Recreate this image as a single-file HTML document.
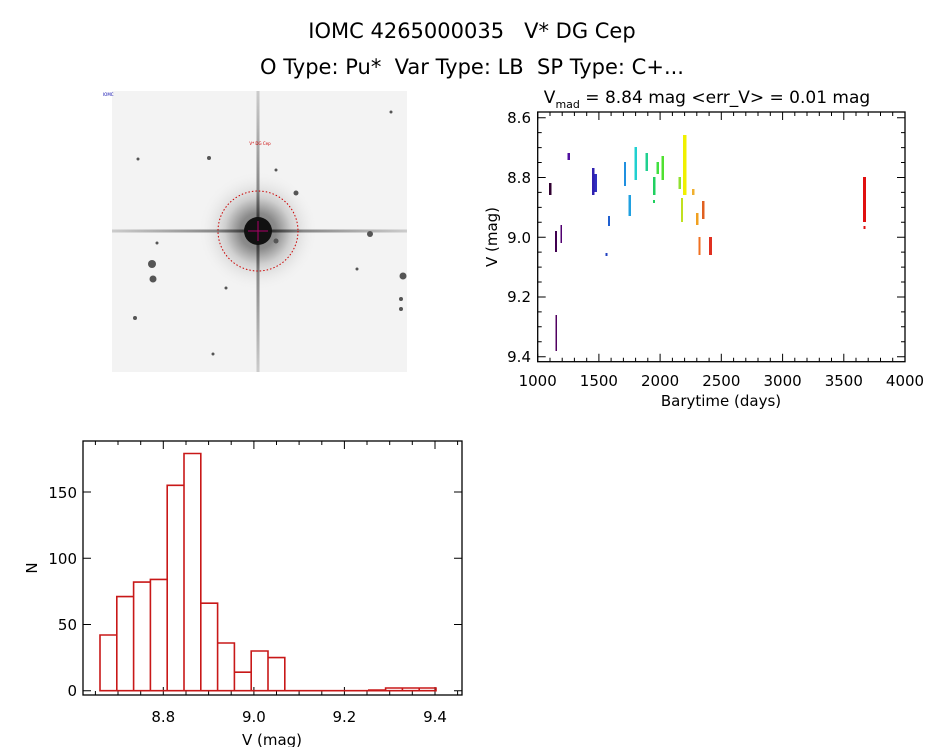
<!DOCTYPE html>
<html><head><meta charset="utf-8"><style>
html,body{margin:0;padding:0;background:#fff;}
svg{display:block;font-family:"DejaVu Sans","Liberation Sans",sans-serif;}
text{white-space:pre;}
</style></head><body>
<svg width="944" height="747" viewBox="0 0 944 747" xmlns="http://www.w3.org/2000/svg">
<rect width="944" height="747" fill="#fff"/>
<text x="472" y="38" font-size="21" text-anchor="middle">IOMC 4265000035   V* DG Cep</text>
<text x="472" y="74" font-size="21" text-anchor="middle">O Type: Pu*  Var Type: LB  SP Type: C+...</text>

<!-- image -->
<defs>
<radialGradient id="halo" cx="0.5" cy="0.5" r="0.5">
<stop offset="0" stop-color="#000"/><stop offset="0.3" stop-color="#222"/><stop offset="0.55" stop-color="#aaa"/><stop offset="1" stop-color="#f3f3f3" stop-opacity="0"/>
</radialGradient>
<linearGradient id="hs" x1="0" x2="1" y1="0" y2="0">
<stop offset="0" stop-color="#ccc"/><stop offset="0.35" stop-color="#888"/><stop offset="0.5" stop-color="#111"/><stop offset="0.65" stop-color="#888"/><stop offset="1" stop-color="#ccc"/>
</linearGradient>
<linearGradient id="vs" x1="0" x2="0" y1="0" y2="1">
<stop offset="0" stop-color="#ccc"/><stop offset="0.35" stop-color="#888"/><stop offset="0.5" stop-color="#111"/><stop offset="0.65" stop-color="#888"/><stop offset="1" stop-color="#ccc"/>
</linearGradient>
</defs>
<rect x="112" y="91" width="295" height="281" fill="#f3f3f3"/>
<circle cx="258" cy="231" r="60" fill="url(#halo)" opacity="0.5"/>
<rect x="112" y="229.5" width="295" height="3" fill="url(#hs)"/>
<rect x="256.5" y="91" width="3" height="281" fill="url(#vs)"/>
<circle cx="258" cy="231" r="14" fill="#111"/>
<circle cx="258" cy="231" r="40" fill="none" stroke="#c00" stroke-width="1" stroke-dasharray="1.5 2"/>
<path d="M248 231H268M258 221V241" stroke="#a06" stroke-width="1"/>
<g fill="#555">
<circle cx="152" cy="264" r="4"/><circle cx="153" cy="279" r="3.5"/><circle cx="370" cy="234" r="3"/><circle cx="403" cy="276" r="3.5"/>
<circle cx="296" cy="193" r="2.5"/><circle cx="276" cy="241" r="2.5"/><circle cx="209" cy="158" r="2"/><circle cx="401" cy="299" r="2"/><circle cx="401" cy="309" r="2"/><circle cx="135" cy="318" r="2"/>
<circle cx="138" cy="159" r="1.5"/><circle cx="391" cy="112" r="1.5"/><circle cx="157" cy="243" r="1.5"/><circle cx="276" cy="170" r="1.5"/><circle cx="213" cy="354" r="1.5"/><circle cx="226" cy="288" r="1.5"/><circle cx="357" cy="269" r="1.5"/></g>
<text x="260" y="145" font-size="4" fill="#c00" text-anchor="middle">V* DG Cep</text>
<text x="103" y="96" font-size="4" fill="#00a">IOMC</text>

<!-- scatter -->
<text x="707" y="103" font-size="17" text-anchor="middle">V<tspan font-size="11" dy="5">mad</tspan><tspan dy="-5"> = 8.84 mag &lt;err_V&gt; = 0.01 mag</tspan></text>
<rect x="537.7" y="112" width="367.3" height="249.7" fill="none" stroke="#000" stroke-width="1.3"/>
<g stroke="#000" stroke-width="1">
<path d="M537.7 361.7v-8M598.9 361.7v-8M660.1 361.7v-8M721.3 361.7v-8M782.6 361.7v-8M843.8 361.7v-8M905 361.7v-8 M537.7 112v8M598.9 112v8M660.1 112v8M721.3 112v8M782.6 112v8M843.8 112v8M905 112v8"/>
<path d="M550 361.7v-4M562.2 361.7v-4M574.4 361.7v-4M586.7 361.7v-4M611.1 361.7v-4M623.4 361.7v-4M635.6 361.7v-4M647.8 361.7v-4M672.4 361.7v-4M684.6 361.7v-4M696.8 361.7v-4M709.1 361.7v-4M733.6 361.7v-4M745.8 361.7v-4M758 361.7v-4M770.3 361.7v-4M794.8 361.7v-4M807 361.7v-4M819.3 361.7v-4M831.5 361.7v-4M856 361.7v-4M868.2 361.7v-4M880.5 361.7v-4M892.7 361.7v-4 M550 112v4M562.2 112v4M574.4 112v4M586.7 112v4M611.1 112v4M623.4 112v4M635.6 112v4M647.8 112v4M672.4 112v4M684.6 112v4M696.8 112v4M709.1 112v4M733.6 112v4M745.8 112v4M758 112v4M770.3 112v4M794.8 112v4M807 112v4M819.3 112v4M831.5 112v4M856 112v4M868.2 112v4M880.5 112v4M892.7 112v4"/>
<path d="M537.7 117.7h8M537.7 177.5h8M537.7 237.2h8M537.7 297h8M537.7 356.7h8 M905 117.7h-8M905 177.5h-8M905 237.2h-8M905 297h-8M905 356.7h-8"/>
<path d="M537.7 132.6h4M537.7 147.6h4M537.7 162.5h4M537.7 192.4h4M537.7 207.4h4M537.7 222.3h4M537.7 252.1h4M537.7 267.1h4M537.7 282h4M537.7 311.9h4M537.7 326.8h4M537.7 341.8h4 M905 132.6h-4M905 147.6h-4M905 162.5h-4M905 192.4h-4M905 207.4h-4M905 222.3h-4M905 252.1h-4M905 267.1h-4M905 282h-4M905 311.9h-4M905 326.8h-4M905 341.8h-4"/>
</g>
<g font-size="15" text-anchor="end">
<text x="531" y="123">8.6</text><text x="531" y="183">8.8</text><text x="531" y="243">9.0</text><text x="531" y="302">9.2</text><text x="531" y="362">9.4</text></g>
<g font-size="15" text-anchor="middle">
<text x="537.7" y="386">1000</text><text x="598.9" y="386">1500</text><text x="660.1" y="386">2000</text><text x="721.3" y="386">2500</text><text x="782.6" y="386">3000</text><text x="843.8" y="386">3500</text><text x="905" y="386">4000</text></g>
<text x="721" y="406" font-size="15" text-anchor="middle">Barytime (days)</text>
<text transform="translate(497,237) rotate(-90)" font-size="15" text-anchor="middle">V (mag)</text>
<g>
<rect x="549" y="183" width="2.5" height="12" fill="#300030"/>
<rect x="555" y="231" width="2" height="21" fill="#400050"/>
<rect x="555.5" y="315" width="1.5" height="36" fill="#500060"/>
<rect x="560.5" y="225" width="1.5" height="18" fill="#500070"/>
<rect x="567.5" y="153" width="2.5" height="7" fill="#5010a0"/>
<rect x="592" y="168" width="2.5" height="27" fill="#3020b0"/>
<rect x="594.5" y="174" width="2.5" height="18" fill="#3030c0"/>
<rect x="605.5" y="253" width="2" height="3" fill="#2040c0"/>
<rect x="608" y="216" width="2" height="10" fill="#2060d0"/>
<rect x="624" y="162" width="2" height="24" fill="#2090e0"/>
<rect x="628.5" y="195" width="2.5" height="21" fill="#20a0e0"/>
<rect x="634.5" y="147" width="2.5" height="33" fill="#20d0d0"/>
<rect x="645.5" y="153" width="2.5" height="18" fill="#20d090"/>
<rect x="653" y="177" width="2.5" height="18" fill="#20d060"/>
<rect x="653" y="200" width="2" height="3" fill="#20d060"/>
<rect x="656.5" y="162" width="2.5" height="12" fill="#40e040"/>
<rect x="661.5" y="156" width="2.5" height="24" fill="#50e030"/>
<rect x="678.5" y="177" width="2.5" height="12" fill="#90e030"/>
<rect x="681" y="198" width="2" height="24" fill="#c0e020"/>
<rect x="683" y="135" width="3.5" height="60" fill="#f0f000"/>
<rect x="692" y="189" width="2.5" height="6" fill="#f0b030"/>
<rect x="696" y="213" width="2.5" height="12" fill="#f0a020"/>
<rect x="698.5" y="237" width="2" height="18" fill="#f07020"/>
<rect x="702" y="201" width="2.5" height="18" fill="#e06020"/>
<rect x="709" y="237" width="3" height="18" fill="#e03020"/>
<rect x="863" y="177" width="3" height="45" fill="#e01010"/>
<rect x="863.5" y="226" width="2" height="3" fill="#e01010"/>
</g>

<!-- histogram -->
<rect x="83" y="441" width="379" height="254" fill="none" stroke="#000" stroke-width="1.3"/>
<g stroke="#000" stroke-width="1">
<path d="M163.3 695v-8M253.9 695v-8M344.4 695v-8M435 695v-8 M163.3 441v8M253.9 441v8M344.4 441v8M435 441v8"/>
<path d="M95.4 695v-4M118 695v-4M140.7 695v-4M186 695v-4M208.6 695v-4M231.2 695v-4M276.5 695v-4M299.1 695v-4M321.8 695v-4M367 695v-4M389.7 695v-4M412.3 695v-4M457.6 695v-4 M95.4 441v4M118 441v4M140.7 441v4M186 441v4M208.6 441v4M231.2 441v4M276.5 441v4M299.1 441v4M321.8 441v4M367 441v4M389.7 441v4M412.3 441v4M457.6 441v4"/>
<path d="M83 690.7h8M83 624.5h8M83 558.2h8M83 492h8 M462 690.7h-8M462 624.5h-8M462 558.2h-8M462 492h-8"/>
</g>
<g font-size="15" text-anchor="end">
<text x="77" y="696">0</text><text x="77" y="630">50</text><text x="77" y="564">100</text><text x="77" y="498">150</text></g>
<g font-size="15" text-anchor="middle">
<text x="163.3" y="722">8.8</text><text x="253.9" y="722">9.0</text><text x="344.4" y="722">9.2</text><text x="435" y="722">9.4</text></g>
<text x="272" y="745" font-size="15" text-anchor="middle">V (mag)</text>
<text transform="translate(37,568) rotate(-90)" font-size="15" text-anchor="middle">N</text>
<path fill="none" stroke="#c81818" stroke-width="1.6" d="M100 690.7V635H116.8V596.6H133.6V582.1H150.4V579.4H167.2V485.3H184V453.5H200.8V603.2H217.6V643H234.4V672.2H251.2V651H268V657.6H284.8V690.7H368.8V690H385.6V688H436V690.7Z M116.8 690.7V635M133.6 690.7V596.6M150.4 690.7V582.1M167.2 690.7V579.4M184 690.7V485.3M200.8 690.7V603.2M217.6 690.7V643M234.4 690.7V672.2M251.2 690.7V672.2M268 690.7V657.6M402.4 690.7V688M419.2 690.7V688"/>
</svg>
</body></html>
